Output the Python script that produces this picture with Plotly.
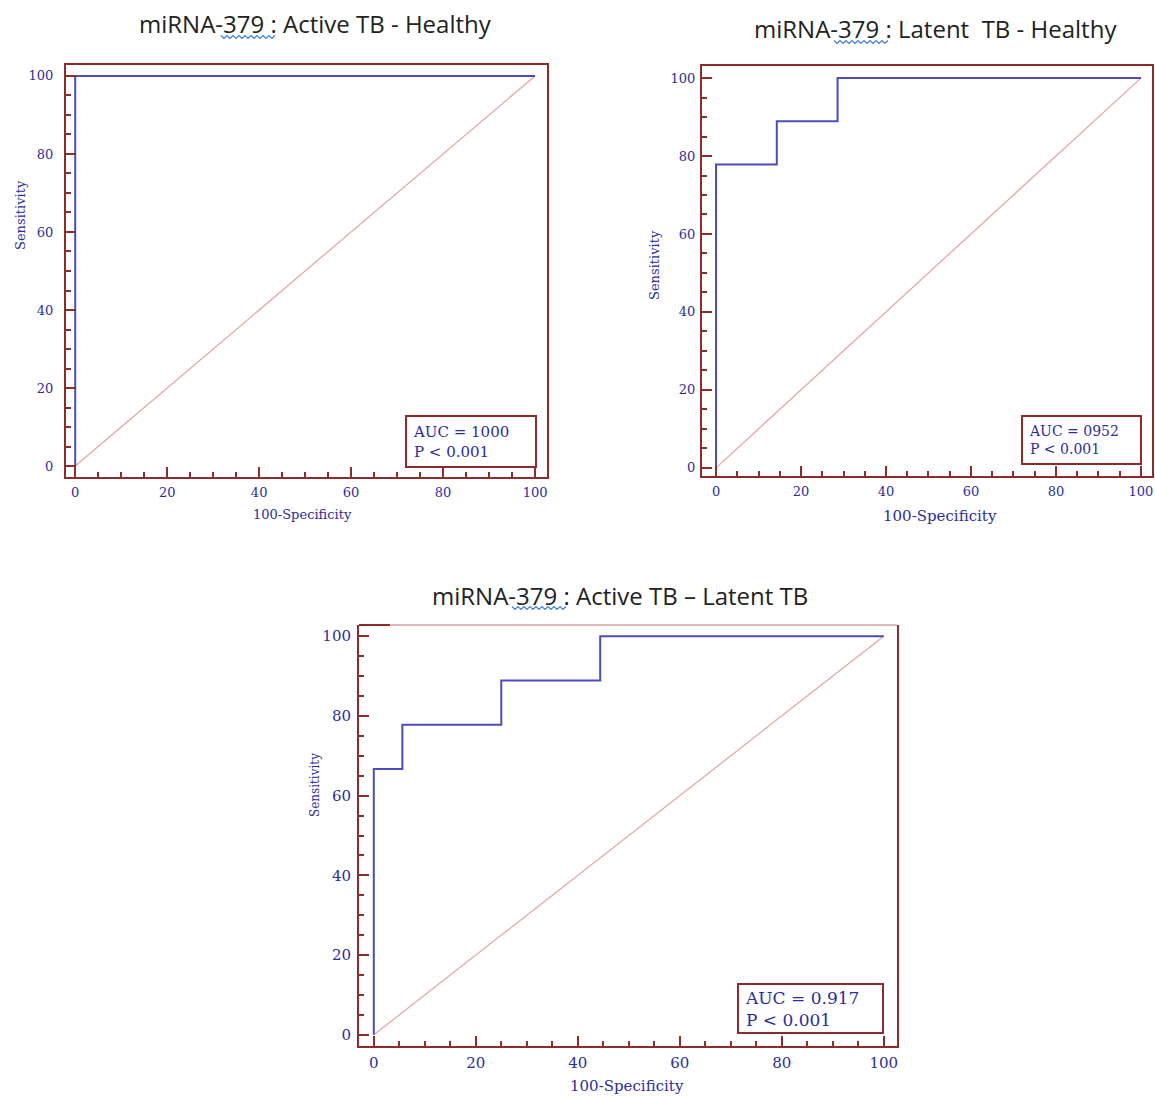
import plotly.graph_objects as go

W, H = 1155, 1096

# ---- data ----
titles = ["miRNA-379 : Active TB - Healthy",
          "miRNA-379 : Latent  TB - Healthy",
          "miRNA-379 : Active TB \u2013 Latent TB"]
roc1_x = [0, 0, 100]
roc1_y = [0, 100, 100]
roc2_x = [0, 0, 14.3, 14.3, 28.6, 28.6, 100]
roc2_y = [0, 77.8, 77.8, 88.9, 88.9, 100, 100]
roc3_x = [0, 0, 5.6, 5.6, 25, 25, 44.4, 44.4, 100]
roc3_y = [0, 66.7, 66.7, 77.8, 77.8, 88.9, 88.9, 100, 100]
diag = [0, 100]
auc_text = ["AUC = 1000<br>P < 0.001", "AUC = 0952<br>P < 0.001", "AUC = 0.917<br>P < 0.001"]
tick_vals = [0, 20, 40, 60, 80, 100]
x_label = "100-Specificity"
y_label = "Sensitivity"

FRAME = "#8e2b2b"
FRAME_LIGHT = "#d9a0a0"
BLUE = "#4c4cbc"
DIAG = "#e2a3a3"
TXT = "#2c2ca0"
SERIF = "DejaVu Serif"


def px(x):
    return x / W


def py(y):
    return 1 - y / H


# panel geometry in pixels: (left, right, top, bottom), ranges, fonts, label positions
panels = [
    dict(box=(66, 547, 65, 477), xr=[-2.0, 102.6], yr=[-2.8, 102.8], tf=13, ystand=8,
         xl=(302, 514, 13), yl=(20, 215, 13)),
    dict(box=(702, 1152, 66, 476), xr=[-3.3, 102.6], yr=[-2.1, 103.1], tf=13, ystand=2,
         xl=(940, 516, 15), yl=(655, 265, 13)),
    dict(box=(359, 897, 625, 1046), xr=[-2.9, 102.6], yr=[-2.8, 102.8], tf=15, ystand=3,
         xl=(627, 1086, 15), yl=(315, 785, 12)),
]
rocs = [(roc1_x, roc1_y), (roc2_x, roc2_y), (roc3_x, roc3_y)]

fig = go.Figure()
layout = dict(width=W, height=H, margin=dict(l=0, r=0, t=0, b=0),
              plot_bgcolor="white", paper_bgcolor="white", showlegend=False)

for i, p in enumerate(panels):
    n = "" if i == 0 else str(i + 1)
    xa, ya = "x" + n, "y" + n
    l, r, t, b = p["box"]
    fig.add_trace(go.Scatter(x=diag, y=diag, mode="lines", xaxis=xa, yaxis=ya,
                             line=dict(color=DIAG, width=1.2), hoverinfo="skip"))
    fig.add_trace(go.Scatter(x=rocs[i][0], y=rocs[i][1], mode="lines", xaxis=xa, yaxis=ya,
                             line=dict(color=BLUE, width=2), hoverinfo="skip"))
    common = dict(showgrid=False, zeroline=False, showline=True, linecolor=FRAME, linewidth=2,
                  ticks="inside", ticklen=10, tickwidth=2, tickcolor=FRAME,
                  tickvals=tick_vals, tickfont=dict(family=SERIF, size=p["tf"], color=TXT),
                  minor=dict(dtick=5, ticks="inside", ticklen=5, tickwidth=1.5, tickcolor=FRAME),
                  fixedrange=True)
    layout["xaxis" + n] = dict(common, domain=[px(l), px(r)], range=p["xr"], anchor=ya,
                               mirror=(i != 2), ticklabelstandoff=2)
    layout["yaxis" + n] = dict(common, domain=[py(b), py(t)], range=p["yr"], anchor=xa,
                               mirror=True, ticklabelstandoff=p["ystand"])
    # axis titles
    xx, yy, fs = p["xl"]
    fig.add_annotation(x=px(xx), y=py(yy), xref="paper", yref="paper", text=x_label,
                       showarrow=False, xanchor="center", yanchor="middle",
                       font=dict(family=SERIF, size=fs, color=TXT))
    xx, yy, fs = p["yl"]
    fig.add_annotation(x=px(xx), y=py(yy), xref="paper", yref="paper", text=y_label,
                       showarrow=False, xanchor="center", yanchor="middle", textangle=-90,
                       font=dict(family=SERIF, size=fs, color=TXT))

fig.update_layout(**layout)

# panel 3 top border: short dark piece then light line
fig.add_shape(type="line", xref="paper", yref="paper", x0=px(359), x1=px(390),
              y0=py(625), y1=py(625), line=dict(color=FRAME, width=2))
fig.add_shape(type="line", xref="paper", yref="paper", x0=px(390), x1=px(897),
              y0=py(625), y1=py(625), line=dict(color=FRAME_LIGHT, width=1.5))

# titles
title_pos = [(315, 24), (935, 29), (620, 595)]
for (tx, ty), tt in zip(title_pos, titles):
    fig.add_annotation(x=px(tx), y=py(ty), xref="paper", yref="paper", text=tt,
                       showarrow=False, xanchor="center", yanchor="middle",
                       font=dict(family="Open Sans", size=24, color="#222222"))


# spell-check squiggles under "379"
def squiggle(x0, x1, y0):
    pts = []
    n = int((x1 - x0) / 3)
    for k in range(n + 1):
        xx = x0 + k * 3
        yy = y0 + (1.5 if k % 2 else -1.5)
        pts.append(f"{px(xx):.5f},{py(yy):.5f}")
    return "M " + " L ".join(pts)


for (x0, x1, y0) in [(221, 276, 37), (834, 889, 42), (512, 568, 608)]:
    fig.add_shape(type="path", path=squiggle(x0, x1, y0), xref="paper", yref="paper",
                  line=dict(color="#3d7de0", width=1.2))

# AUC boxes
boxes = [(406, 536, 416, 467, 15), (1022, 1141, 416, 464, 14), (738, 883, 984, 1033, 17)]
for (bl, br, bt, bb, fs), txt in zip(boxes, auc_text):
    fig.add_shape(type="rect", xref="paper", yref="paper",
                  x0=px(bl), x1=px(br), y0=py(bb), y1=py(bt),
                  line=dict(color=FRAME, width=2), fillcolor="white")
    fig.add_annotation(x=px(bl + 5), y=py((bt + bb) / 2), xref="paper", yref="paper",
                       text=txt, showarrow=False, xanchor="left", yanchor="middle",
                       align="left", font=dict(family=SERIF, size=fs, color=TXT))

fig.write_html("out.html")
